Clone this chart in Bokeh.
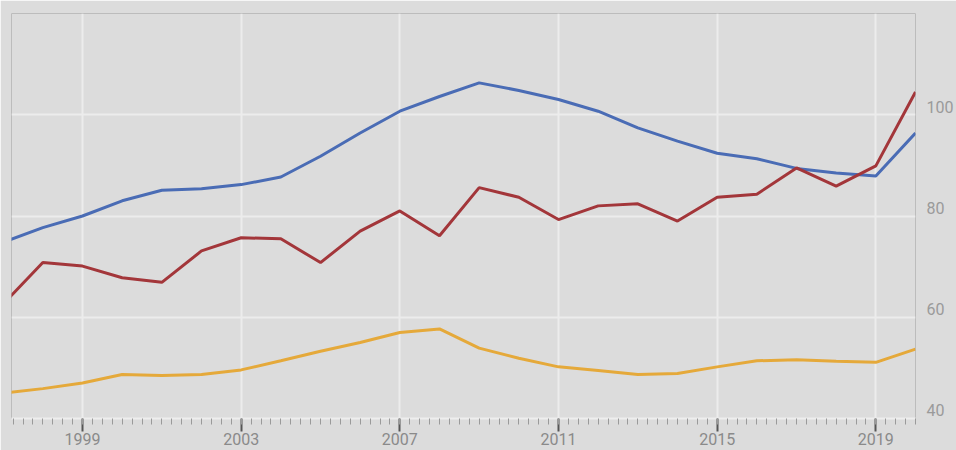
from bokeh.plotting import figure
from bokeh.models import FixedTicker, LinearAxis, Range1d
from bokeh.embed import file_html
from bokeh.resources import INLINE

years = list(range(1997, 2021))
blue_vals = [74.8, 77.7, 80.0, 83.0, 85.1, 85.4, 86.2, 87.7, 91.8, 96.4, 100.7, 103.6,
             106.3, 104.8, 103.0, 100.7, 97.4, 94.8, 92.4, 91.3, 89.4, 88.5, 87.9, 96.4]
red_vals = [62.6, 70.8, 70.1, 67.8, 66.9, 73.1, 75.7, 75.5, 70.8, 77.0, 81.0, 76.1,
            85.6, 83.7, 79.3, 82.0, 82.4, 79.0, 83.7, 84.3, 89.5, 85.9, 89.9, 104.5]
yellow_vals = [45.0, 45.9, 47.0, 48.7, 48.5, 48.7, 49.6, 51.4, 53.3, 55.0, 57.0, 57.7,
               53.9, 51.9, 50.2, 49.5, 48.7, 48.9, 50.2, 51.4, 51.6, 51.3, 51.1, 53.7]
x_ticks = [1999, 2003, 2007, 2011, 2015, 2019]
x_tick_labels = ["1999", "2003", "2007", "2011", "2015", "2019"]
y_ticks = [40, 60, 80, 100]
y_tick_labels = ["40", "60", "80", "100"]

BG = "#dcdcdc"
LABEL_LIFT = 1.6  # the value labels sit a little above their grid lines

p = figure(width=956, height=450, output_backend="svg", toolbar_location=None,
           x_range=Range1d(1997.21, 2020.0), y_range=Range1d(40, 120),
           y_axis_location=None, min_border_left=11, min_border_top=13,
           min_border_right=40, min_border_bottom=32)
p.background_fill_color = BG
p.border_fill_color = BG
p.outline_line_color = "#bcbcbc"
p.outline_line_width = 1

p.line(years, blue_vals, line_color="#4a6cb5", line_width=3)
p.line(years, red_vals, line_color="#a3363a", line_width=3)
p.line(years, yellow_vals, line_color="#e5a93a", line_width=3)

minor = [1997 + q / 4 for q in range(0, 93)]

xa = p.xaxis[0]
xa.ticker = FixedTicker(ticks=x_ticks, minor_ticks=minor)
xa.major_label_overrides = {t: l for t, l in zip(x_ticks, x_tick_labels)}
xa.axis_line_color = "#eeeeee"
xa.axis_line_width = 2
xa.major_tick_line_color = "#555555"
xa.major_tick_line_width = 2
xa.major_tick_in = 0
xa.major_tick_out = 13
xa.minor_tick_line_color = "#9a9a9a"
xa.minor_tick_in = 0
xa.minor_tick_out = 6
xa.major_label_standoff = 1
xa.major_label_text_font = "Roboto"
xa.major_label_text_font_size = "16px"
xa.major_label_text_color = "#8a8a8a"

label_pos = [t + LABEL_LIFT for t in y_ticks]
ya = LinearAxis(ticker=FixedTicker(ticks=label_pos))
ya.major_label_overrides = {pos: l for pos, l in zip(label_pos, y_tick_labels)}
ya.axis_line_color = None
ya.major_tick_line_color = None
ya.minor_tick_line_color = None
ya.major_label_standoff = 5
ya.major_label_text_font = "Roboto"
ya.major_label_text_font_size = "16px"
ya.major_label_text_color = "#9a9a9a"
p.add_layout(ya, "right")

p.xgrid.ticker = FixedTicker(ticks=x_ticks)
p.xgrid.grid_line_color = "#ececec"
p.xgrid.grid_line_width = 2
p.ygrid.ticker = FixedTicker(ticks=[60, 80, 100])
p.ygrid.grid_line_color = "#ececec"
p.ygrid.grid_line_width = 2

open("out.html", "w").write(file_html(p, INLINE))
